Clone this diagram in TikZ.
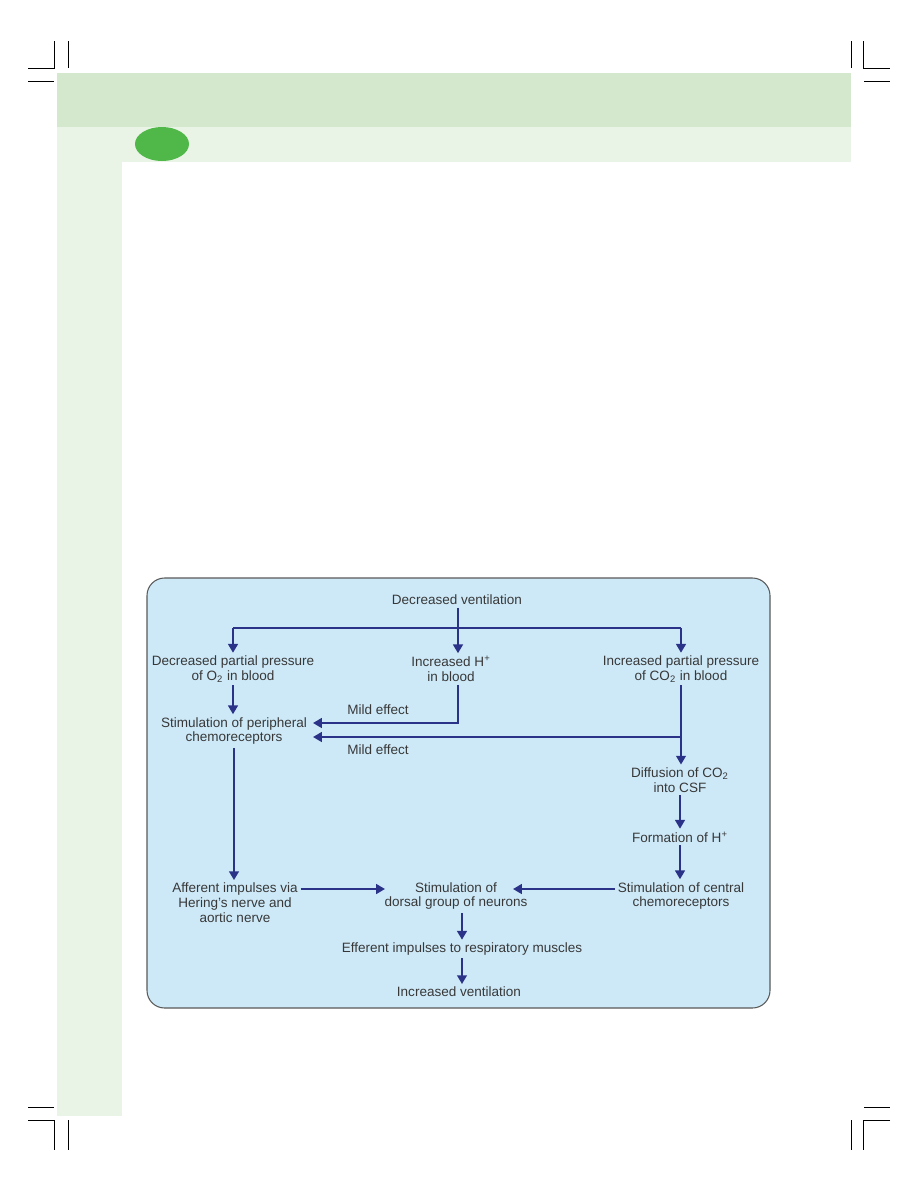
\documentclass[tikz,border=0pt]{standalone}
\usepackage{fontspec}
\setmainfont{Liberation Sans}
\usetikzlibrary{arrows.meta}

\definecolor{bandgreen}{HTML}{D3E8CC}
\definecolor{palegreen}{HTML}{E9F4E6}
\definecolor{dotgreen}{HTML}{50B848}
\definecolor{boxblue}{HTML}{CDE9F8}
\definecolor{arrowblue}{HTML}{2B3388}
\definecolor{textgray}{HTML}{383838}

\tikzset{
    txt/.style={align=center, text=textgray, inner sep=1.5pt, font=\fontsize{7.7pt}{8.5pt}\selectfont},
    flow/.style={draw=arrowblue, line width=1.2pt, -{Triangle[length=5pt,width=5.5pt]}},
    plain/.style={draw=arrowblue, line width=1.2pt},
    crop/.style={black, line width=0.5pt}
}

\begin{document}
\begin{tikzpicture}[x=0.02cm,y=-0.02cm]
    \useasboundingbox (0,0) rectangle (918,1188);
    \fill[bandgreen] (57,73) rectangle (851,127);
    \fill[palegreen] (57,127) rectangle (851,162);
    \fill[palegreen] (57,162) rectangle (122,1116);
    \fill[dotgreen] (162,144) ellipse [x radius=27, y radius=17];
    \draw[crop] (54,41) -- (54,68) -- (28,68);
    \draw[crop] (68,41) -- (68,68);
    \draw[crop] (28,81) -- (54,81);
    \draw[crop] (851,41) -- (851,68);
    \draw[crop] (863,41) -- (863,68) -- (890,68);
    \draw[crop] (864,81) -- (890,81);
    \draw[crop] (28,1107) -- (54,1107);
    \draw[crop] (28,1120) -- (54,1120) -- (54,1150);
    \draw[crop] (68,1120) -- (68,1150);
    \draw[crop] (864,1107) -- (890,1107);
    \draw[crop] (890,1120) -- (863,1120) -- (863,1150);
    \draw[crop] (851,1120) -- (851,1150);
    \draw[fill=boxblue, draw=black!65, line width=0.6pt, rounded corners=10pt] (147,578) rectangle (770,1008);

    \node[txt] (dv) at (457,600) {Decreased ventilation};
    \node[txt] (o2) at (233,669) {Decreased partial pressure\\of O\textsubscript{2} in blood};
    \node[txt] (hplus) at (451,669) {Increased H\textsuperscript{+}\\in blood};
    \node[txt] (co2) at (681,669) {Increased partial pressure\\of CO\textsubscript{2} in blood};
    \node[txt] (peri) at (234,731) {Stimulation of peripheral\\chemoreceptors};
    \node[txt] (mildA) at (378,710) {Mild effect};
    \node[txt] (mildB) at (378,750) {Mild effect};
    \node[txt] (csf) at (680,780) {Diffusion of CO\textsubscript{2}\\into CSF};
    \node[txt] (formh) at (680,837) {Formation of H\textsuperscript{+}};
    \node[txt] (central) at (681,896) {Stimulation of central\\chemoreceptors};
    \node[txt] (dorsal) at (456,896) {Stimulation of\\dorsal group of neurons};
    \node[txt] (aff) at (235,903) {Afferent impulses via\\Hering's nerve and\\aortic nerve};
    \node[txt] (eff) at (462,949) {Efferent impulses to respiratory muscles};
    \node[txt] (iv) at (459,992) {Increased ventilation};

    \coordinate (split) at (458,628);
    \coordinate (hitA) at (313,723);
    \coordinate (hitB) at (313,737);
    \coordinate (hitL) at (385,889);
    \coordinate (hitR) at (513,889);

    \draw[flow] (dv.south -| split) -- (split |- hplus.north);
    \draw[plain] (split -| o2) -- (split -| co2);
    \draw[flow] (split -| o2) -- (o2);
    \draw[flow] (split -| co2) -- (co2);
    \draw[flow] (hplus.south -| split) |- (hitA);
    \draw[flow] (co2.south |- hitB) -- (hitB);
    \draw[flow] (co2.south) -- (co2.south |- csf.north);
    \draw[flow] (o2.south) -- (o2.south |- peri.north);
    \draw[flow] (csf.south) -- (formh.north);
    \draw[flow] (formh.south) -- (formh.south |- central.north);
    \draw[flow] (peri.south) -- (peri.south |- aff.north);
    \draw[flow] (aff.east |- hitL) -- (hitL);
    \draw[flow] (central.west |- hitR) -- (hitR);
    \draw[flow] (dorsal.south -| eff) -- (eff);
    \draw[flow] (eff.south) -- (eff.south |- iv.north);
\end{tikzpicture}
\end{document}
